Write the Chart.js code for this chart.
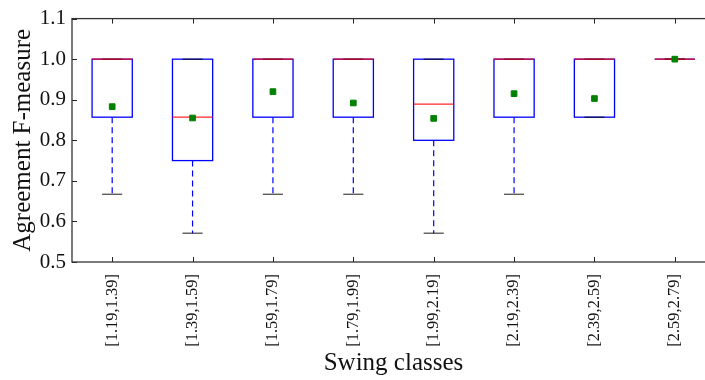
<!DOCTYPE html>
<html>
<head>
<meta charset="utf-8">
<script src="https://cdn.jsdelivr.net/npm/chart.js@4.4.1/dist/chart.umd.min.js"></script>
<style>
  html, body { margin: 0; padding: 0; background: #fff; overflow: hidden; }
  #wrap { width: 720px; height: 380px; }
</style>
</head>
<body>
<div id="wrap"><canvas id="boxChart" width="720" height="380"></canvas></div>
<script>
// swing classes and per-class box statistics of the agreement F-measure
const classes = ['[1.19,1.39]', '[1.39,1.59]', '[1.59,1.79]', '[1.79,1.99]',
                 '[1.99,2.19]', '[2.19,2.39]', '[2.39,2.59]', '[2.59,2.79]'];
const whiskerLow  = [0.667, 0.571, 0.667, 0.667, 0.571, 0.667, 0.857, 1.0];
const q1          = [0.857, 0.750, 0.857, 0.857, 0.800, 0.857, 0.857, 1.0];
const medians     = [1.000, 0.857, 1.000, 1.000, 0.889, 1.000, 1.000, 1.0];
const q3          = [1.0, 1.0, 1.0, 1.0, 1.0, 1.0, 1.0, 1.0];
const whiskerHigh = [1.0, 1.0, 1.0, 1.0, 1.0, 1.0, 1.0, 1.0];
const means       = [0.883, 0.855, 0.920, 0.892, 0.854, 0.915, 0.903, 1.0];
const yTicks      = [0.5, 0.6, 0.7, 0.8, 0.9, 1.0, 1.1];

const SERIF = "Liberation Serif, DejaVu Serif, serif";

// boxes, whiskers, caps and medians, drawn under the mean markers
const boxParts = {
    id: 'boxParts',
    beforeDatasetsDraw(chart) {
        const ctx = chart.ctx;
        const xs = chart.scales.x;
        const ys = chart.scales.y;
        const catW = xs.getPixelForValue(1) - xs.getPixelForValue(0);
        const boxW = catW * 0.5;
        const capW = boxW * 0.5;

        ctx.save();
        classes.forEach((c, i) => {
            const cx = xs.getPixelForValue(i);
            const top = ys.getPixelForValue(q3[i]);
            const bot = ys.getPixelForValue(q1[i]);

            // box outline
            ctx.strokeStyle = '#0000ff';
            ctx.lineWidth = 1.3;
            ctx.strokeRect(cx - boxW / 2, top, boxW, bot - top);

            // dashed whiskers
            ctx.lineWidth = 1.2;
            ctx.setLineDash([6, 4]);
            [[q1[i], whiskerLow[i]], [q3[i], whiskerHigh[i]]].forEach(([a, b]) => {
                if (a === b) return;
                ctx.beginPath();
                ctx.moveTo(cx, ys.getPixelForValue(a));
                ctx.lineTo(cx, ys.getPixelForValue(b));
                ctx.stroke();
            });
            ctx.setLineDash([]);

            // caps
            ctx.strokeStyle = 'rgba(0, 0, 0, 0.75)';
            ctx.lineWidth = 1.2;
            [whiskerLow[i], whiskerHigh[i]].forEach(v => {
                const py = ys.getPixelForValue(v);
                ctx.beginPath();
                ctx.moveTo(cx - capW / 2, py);
                ctx.lineTo(cx + capW / 2, py);
                ctx.stroke();
            });

            // median
            ctx.strokeStyle = 'rgba(255, 0, 0, 0.85)';
            ctx.lineWidth = 1.3;
            const my = ys.getPixelForValue(medians[i]);
            ctx.beginPath();
            ctx.moveTo(cx - boxW / 2, my);
            ctx.lineTo(cx + boxW / 2, my);
            ctx.stroke();
        });
        ctx.restore();
    }
};

// axes frame with inward tick marks
const frame = {
    id: 'frame',
    afterDraw(chart) {
        const ctx = chart.ctx;
        const a = chart.chartArea;
        const xs = chart.scales.x;
        const ys = chart.scales.y;
        const len = 5;

        ctx.save();
        ctx.strokeStyle = '#222';
        ctx.lineWidth = 1;
        ys.ticks.forEach(t => {
            const py = Math.round(ys.getPixelForValue(t.value)) + 0.5;
            ctx.beginPath();
            ctx.moveTo(a.left, py); ctx.lineTo(a.left + len, py);
            ctx.moveTo(a.right, py); ctx.lineTo(a.right - len, py);
            ctx.stroke();
        });
        classes.forEach((c, i) => {
            const px = Math.round(xs.getPixelForValue(i)) + 0.5;
            ctx.beginPath();
            ctx.moveTo(px, a.bottom); ctx.lineTo(px, a.bottom - len);
            ctx.moveTo(px, a.top); ctx.lineTo(px, a.top + len);
            ctx.stroke();
        });

        ctx.strokeStyle = '#333';
        ctx.lineWidth = 1.3;
        ctx.strokeRect(a.left, a.top, a.right - a.left, a.bottom - a.top);
        ctx.restore();
    }
};

new Chart(document.getElementById('boxChart'), {
    type: 'line',
    data: {
        labels: classes,
        datasets: [
            {
                label: 'mean',
                data: means,
                showLine: false,
                pointStyle: 'rect',
                pointRadius: 4,
                pointBackgroundColor: '#008000',
                pointBorderColor: '#008000',
                pointBorderWidth: 1
            }
        ]
    },
    options: {
        responsive: false,
        animation: false,
        devicePixelRatio: 1,
        events: [],
        layout: { padding: { top: 16, right: 3, left: 0, bottom: 0 } },
        plugins: {
            legend: { display: false },
            tooltip: { enabled: false }
        },
        scales: {
            x: {
                type: 'category',
                offset: true,
                grid: { display: false, drawTicks: false },
                border: { display: false },
                ticks: {
                    autoSkip: false,
                    minRotation: 90,
                    maxRotation: 90,
                    padding: 12,
                    color: '#111',
                    font: { family: SERIF, size: 16.5 }
                },
                title: {
                    display: true,
                    text: 'Swing classes',
                    color: '#111',
                    font: { family: SERIF, size: 25 },
                    padding: { top: 0, bottom: 2 }
                },
                afterFit(scale) { scale.height = 118; }
            },
            y: {
                min: 0.5,
                max: 1.1,
                afterBuildTicks(scale) {
                    scale.ticks = yTicks.map(v => ({ value: v }));
                },
                grid: { display: false, drawTicks: false },
                border: { display: false },
                ticks: {
                    padding: 6,
                    color: '#111',
                    font: { family: SERIF, size: 21 },
                    callback: v => Number(v).toFixed(1)
                },
                title: {
                    display: true,
                    text: 'Agreement F-measure',
                    color: '#111',
                    font: { family: SERIF, size: 25 },
                    padding: { top: 8, bottom: 0 }
                },
                afterFit(scale) { scale.width = 72; }
            }
        }
    },
    plugins: [boxParts, frame]
});
</script>
</body>
</html>
